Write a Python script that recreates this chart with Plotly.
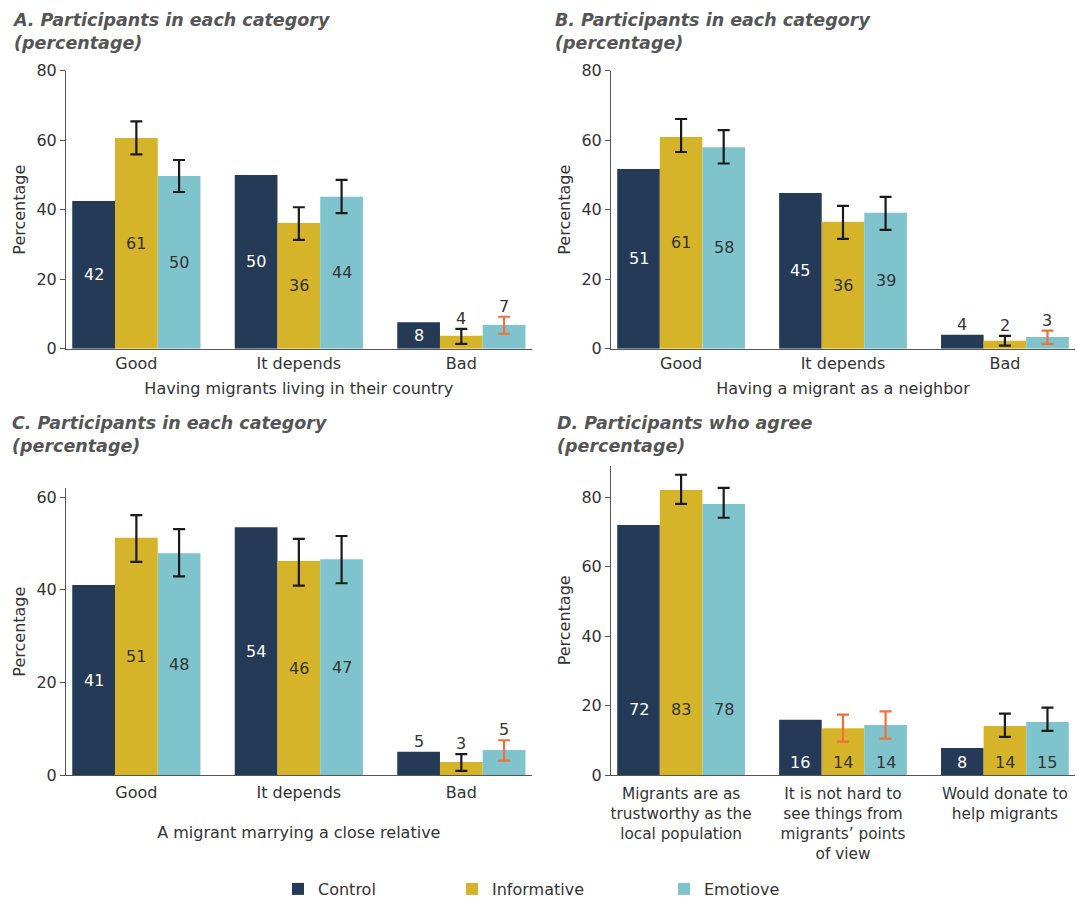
import plotly.graph_objects as go

# ---------------- data ----------------
series_names = ["Control", "Informative", "Emotiove"]
categories_abc = ["Good", "It depends", "Bad"]
categories_d = [
    "Migrants are as<br>trustworthy as the<br>local population",
    "It is not hard to<br>see things from<br>migrants’ points<br>of view",
    "Would donate to<br>help migrants",
]

# Panel A: Having migrants living in their country
a_control = [42.5, 50.0, 7.6]
a_informative = [60.6, 36.2, 3.7]
a_emotive = [49.7, 43.7, 6.8]
a_informative_low = [55.9, 31.3, 1.4]
a_informative_high = [65.4, 40.7, 5.7]
a_emotive_low = [45.1, 39.0, 4.3]
a_emotive_high = [54.3, 48.6, 9.2]
a_control_labels = [42, 50, 8]
a_informative_labels = [61, 36, 4]
a_emotive_labels = [50, 44, 7]
a_informative_ns = [False, False, False]
a_emotive_ns = [False, False, True]

# Panel B: Having a migrant as a neighbor
b_control = [51.7, 44.8, 4.0]
b_informative = [60.9, 36.5, 2.3]
b_emotive = [58.0, 39.1, 3.4]
b_informative_low = [56.6, 31.6, 0.9]
b_informative_high = [66.1, 41.1, 3.7]
b_emotive_low = [53.3, 34.2, 1.4]
b_emotive_high = [62.9, 43.7, 5.2]
b_control_labels = [51, 45, 4]
b_informative_labels = [61, 36, 2]
b_emotive_labels = [58, 39, 3]
b_informative_ns = [False, False, False]
b_emotive_ns = [False, False, True]

# Panel C: A migrant marrying a close relative
c_control = [41.0, 53.5, 5.0]
c_informative = [51.2, 46.2, 2.8]
c_emotive = [47.9, 46.6, 5.4]
c_informative_low = [46.0, 40.9, 0.9]
c_informative_high = [56.1, 51.0, 4.5]
c_emotive_low = [42.9, 41.4, 3.1]
c_emotive_high = [53.1, 51.6, 7.5]
c_control_labels = [41, 54, 5]
c_informative_labels = [51, 46, 3]
c_emotive_labels = [48, 47, 5]
c_informative_ns = [False, False, False]
c_emotive_ns = [False, False, True]

# Panel D: Participants who agree
d_control = [72.0, 15.9, 7.8]
d_informative = [82.1, 13.5, 14.1]
d_emotive = [78.1, 14.4, 15.3]
d_informative_low = [78.1, 9.6, 11.0]
d_informative_high = [86.5, 17.4, 17.7]
d_emotive_low = [74.1, 10.5, 12.7]
d_emotive_high = [82.7, 18.3, 19.4]
d_control_labels = [72, 16, 8]
d_informative_labels = [83, 14, 14]
d_emotive_labels = [78, 14, 15]
d_informative_ns = [False, True, False]
d_emotive_ns = [False, True, False]

# ---------------- style ----------------
W, H = 1077, 900
FONT = "DejaVu Sans"
FS = 16
TXT = "#333333"
TITLE_C = "#555555"
AXIS_C = "#555555"
COLORS = ["#253A56", "#D6B42A", "#7FC4CD"]
ERR_BLACK = "#1A1A1A"
ERR_ORANGE = "#F0703A"
BAR_W = 0.263
SHIFTS = [-BAR_W, 0.0, BAR_W]
XRANGE = [-0.433, 2.433]
D_LABEL_Y = [18.8, 3.7, 3.7]


def px_x(a, b):
    return [a / W, b / W]


def px_y(top, bottom):
    return [1 - bottom / H, 1 - top / H]


fig = go.Figure()

panels = [
    dict(key="", cats=categories_abc, xdom=px_x(66, 531.7), ydom=px_y(70.7, 348.7),
         yrange=[0, 80], ticks=[0, 20, 40, 60, 80], xtitle="Having migrants living in their country",
         standoff=10, tlso=0, tfs=FS,
         vals=[a_control, a_informative, a_emotive],
         lows=[None, a_informative_low, a_emotive_low],
         highs=[None, a_informative_high, a_emotive_high],
         labels=[a_control_labels, a_informative_labels, a_emotive_labels],
         ns=[None, a_informative_ns, a_emotive_ns], style="abc"),
    dict(key="2", cats=categories_abc, xdom=px_x(611, 1075), ydom=px_y(70.7, 348.7),
         yrange=[0, 80], ticks=[0, 20, 40, 60, 80], xtitle="Having a migrant as a neighbor",
         standoff=10, tlso=0, tfs=FS,
         vals=[b_control, b_informative, b_emotive],
         lows=[None, b_informative_low, b_emotive_low],
         highs=[None, b_informative_high, b_emotive_high],
         labels=[b_control_labels, b_informative_labels, b_emotive_labels],
         ns=[None, b_informative_ns, b_emotive_ns], style="abc"),
    dict(key="3", cats=categories_abc, xdom=px_x(66, 531.7), ydom=px_y(488.3, 775),
         yrange=[0, 61.9], ticks=[0, 20, 40, 60], xtitle="A migrant marrying a close relative",
         standoff=25, tlso=3, tfs=FS,
         vals=[c_control, c_informative, c_emotive],
         lows=[None, c_informative_low, c_emotive_low],
         highs=[None, c_informative_high, c_emotive_high],
         labels=[c_control_labels, c_informative_labels, c_emotive_labels],
         ns=[None, c_informative_ns, c_emotive_ns], style="abc"),
    dict(key="4", cats=categories_d, xdom=px_x(611, 1075), ydom=px_y(465.7, 775),
         yrange=[0, 89.1], ticks=[0, 20, 40, 60, 80], xtitle=None,
         standoff=9, tlso=5, tfs=15.3,
         vals=[d_control, d_informative, d_emotive],
         lows=[None, d_informative_low, d_emotive_low],
         highs=[None, d_informative_high, d_emotive_high],
         labels=[d_control_labels, d_informative_labels, d_emotive_labels],
         ns=[None, d_informative_ns, d_emotive_ns], style="d"),
]

annotations = []
layout_axes = {}

for p in panels:
    k = p["key"]
    xref, yref = "x" + k, "y" + k
    n = len(p["cats"])
    for s in range(3):
        vals = p["vals"][s]
        fig.add_trace(go.Bar(
            x=list(range(n)), y=vals, width=BAR_W, offset=SHIFTS[s] - BAR_W / 2,
            marker=dict(color=COLORS[s], line=dict(width=0)),
            name=series_names[s], xaxis=xref, yaxis=yref,
            showlegend=(k == ""), legend=["legend", "legend2", "legend3"][s],
            hoverinfo="skip",
        ))
        # error bars (black = significant, orange = not significant)
        if p["lows"][s] is not None:
            for flag, col in [(False, ERR_BLACK), (True, ERR_ORANGE)]:
                idx = [i for i in range(n) if p["ns"][s][i] == flag]
                if not idx:
                    continue
                fig.add_trace(go.Scatter(
                    x=[i + SHIFTS[s] for i in idx],
                    y=[vals[i] for i in idx],
                    mode="markers", marker=dict(size=1, opacity=0),
                    error_y=dict(type="data", symmetric=False,
                                 array=[p["highs"][s][i] - vals[i] for i in idx],
                                 arrayminus=[vals[i] - p["lows"][s][i] for i in idx],
                                 color=col, thickness=2.2, width=6),
                    xaxis=xref, yaxis=yref, showlegend=False, hoverinfo="skip",
                ))
        # value labels
        for i in range(n):
            v = vals[i]
            lab = str(p["labels"][s][i])
            if p["style"] == "d":
                annotations.append(dict(
                    x=i + SHIFTS[s], y=D_LABEL_Y[i], xref=xref, yref=yref,
                    text=lab, showarrow=False, yanchor="middle",
                    font=dict(family=FONT, size=FS, color="white" if s == 0 else TXT)))
            elif v >= 7.5:
                annotations.append(dict(
                    x=i + SHIFTS[s], y=v / 2, xref=xref, yref=yref,
                    text=lab, showarrow=False, yanchor="middle",
                    font=dict(family=FONT, size=FS, color="white" if s == 0 else TXT)))
            else:
                top = v
                if p["highs"][s] is not None:
                    top = max(v, p["highs"][s][i])
                annotations.append(dict(
                    x=i + SHIFTS[s], y=top, xref=xref, yref=yref,
                    text=lab, showarrow=False, yanchor="bottom", yshift=-1,
                    font=dict(family=FONT, size=FS, color=TXT)))

    xa = dict(domain=p["xdom"], range=XRANGE, anchor=yref, tickvals=list(range(n)),
              ticktext=p["cats"], showline=True, linecolor=AXIS_C, linewidth=1,
              ticks="", showgrid=False, zeroline=False, ticklabelstandoff=p["tlso"],
              automargin=False,
              tickfont=dict(family=FONT, size=p["tfs"], color=TXT))
    if p["xtitle"]:
        xa["title"] = dict(text=p["xtitle"], standoff=p["standoff"],
                           font=dict(family=FONT, size=FS, color=TXT))
    ya = dict(domain=p["ydom"], range=p["yrange"], anchor=xref, tickvals=p["ticks"],
              showline=True, linecolor=AXIS_C, linewidth=1, ticks="outside", ticklen=5,
              tickcolor=AXIS_C, tickwidth=1, showgrid=False, zeroline=False,
              automargin=False,
              tickfont=dict(family=FONT, size=FS, color=TXT),
              title=dict(text="Percentage", standoff=6,
                         font=dict(family=FONT, size=FS, color=TXT)))
    layout_axes["xaxis" + k] = xa
    layout_axes["yaxis" + k] = ya

titles = [
    ("A. Participants in each category<br>(percentage)", 10, 8),
    ("B. Participants in each category<br>(percentage)", 553, 8),
    ("C. Participants in each category<br>(percentage)", 10, 411),
    ("D. Participants who agree<br>(percentage)", 555, 411),
]
for t, x, y in titles:
    annotations.append(dict(
        text="<b><i>" + t + "</i></b>", xref="paper", yref="paper",
        x=x / W, y=1 - y / H, xanchor="left", yanchor="top", align="left",
        showarrow=False, font=dict(family=FONT, size=17.5, color=TITLE_C)))

legend_common = dict(orientation="h", yanchor="middle", y=1 - 889 / H, xanchor="left",
                     font=dict(family=FONT, size=FS, color=TXT), bgcolor="rgba(0,0,0,0)")

fig.update_layout(
    width=W, height=H, margin=dict(l=0, r=0, t=0, b=0, pad=0, autoexpand=False),
    paper_bgcolor="white", plot_bgcolor="white",
    barmode="overlay",
    font=dict(family=FONT, color=TXT),
    annotations=annotations,
    legend=dict(x=278 / W, **legend_common),
    legend2=dict(x=452 / W, **legend_common),
    legend3=dict(x=664 / W, **legend_common),
    **layout_axes,
)

PIN_PAGE = (
    "var d=document.getElementById('{plot_id}');"
    "d.style.position='fixed';d.style.left='0px';d.style.top='0px';"
    "document.body.style.margin='0';document.body.style.padding='0';"
    "document.body.style.overflow='hidden';"
    "document.documentElement.style.overflow='hidden';"
)

fig.write_html("out.html", config={"displayModeBar": False}, post_script=PIN_PAGE)
